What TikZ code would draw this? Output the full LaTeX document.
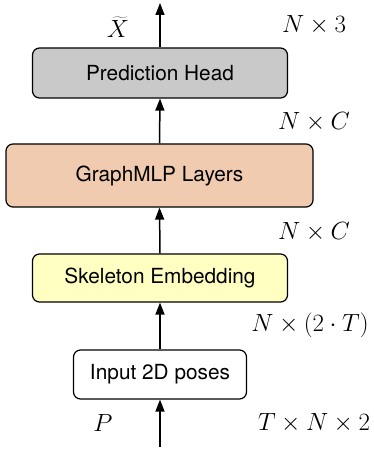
\documentclass[tikz,border=0pt]{standalone}
\usepackage{fontspec}
\setsansfont{TeX Gyre Heros}
\usetikzlibrary{arrows.meta}
\definecolor{headgray}{HTML}{C9C9C9}
\definecolor{mlporange}{HTML}{F0CBB0}
\definecolor{embyellow}{HTML}{FFFFC2}
\tikzset{
  blockbox/.style={draw=black, line width=1.2pt, rounded corners=7pt, inner sep=0pt,
    font=\sffamily\fontsize{20.8}{24}\selectfont},
  flowarrow/.style={line width=1.5pt, -{Triangle[length=12pt,width=9pt]}},
  dimlabel/.style={inner sep=0pt, font=\fontsize{24.5}{28}\selectfont}
}
\begin{document}
\begin{tikzpicture}[x=1pt,y=-1pt]
\useasboundingbox (0,0) rectangle (373,449);
\node[blockbox, fill=headgray, minimum width=255pt, minimum height=50pt] (head) at (160,73) {Prediction Head};
\node[blockbox, fill=mlporange, minimum width=307pt, minimum height=63pt] (mlp) at (159.5,175.5) {GraphMLP Layers};
\node[blockbox, fill=embyellow, minimum width=255pt, minimum height=48pt] (emb) at (160,278) {Skeleton Embedding};
\node[blockbox, fill=white, minimum width=173pt, minimum height=49pt] (inp) at (160,374.5) {Input 2D poses};
\coordinate (top) at (160,3);
\coordinate (bot) at (160,447);
\draw[flowarrow] (head.north) -- (top);
\draw[flowarrow] (mlp.north) -- (head.south);
\draw[flowarrow] (emb.north) -- (mlp.south);
\draw[flowarrow] (inp.north) -- (emb.south);
\draw[flowarrow] (bot) -- (inp.south);
\node[dimlabel] (xt) at (118,27) {$\widetilde{X}$};
\node[dimlabel] (d1) at (314,25) {$N\times 3$};
\node[dimlabel] (d2) at (314,122) {$N\times C$};
\node[dimlabel] (d3) at (314,232) {$N\times C$};
\node[dimlabel] (d4) at (310,325) {$N\times (2\cdot T)$};
\node[dimlabel] (p) at (103,423) {$P$};
\node[dimlabel] (d5) at (314,423) {$T\times N\times 2$};
\end{tikzpicture}
\end{document}
